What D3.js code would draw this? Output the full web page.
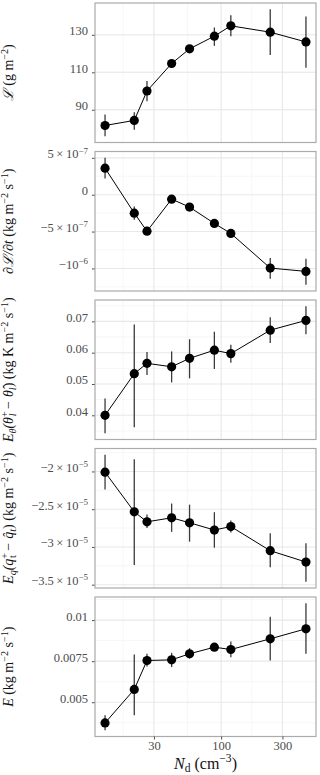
<!DOCTYPE html>
<html>
<head>
<meta charset="utf-8">
<script src="https://cdn.jsdelivr.net/npm/d3@7"></script>
<style>
  html, body { margin: 0; padding: 0; background: #fff; }
  svg { display: block; font-family: "Liberation Serif", "DejaVu Serif", serif; }
  svg text { font-family: "Liberation Serif", "DejaVu Serif", serif; }
</style>
</head>
<body>
<div id="chart"></div>
<script>
// droplet number concentration (cm^-3)
const nd = [12.5, 21.1, 26.5, 41.2, 56.8, 88.6, 119, 241, 457];

const lwp   = [81.6, 84.3, 100, 114.7, 122.5, 129.3, 134.8, 131.4, 126.2];
const lwpLo = [75.9, 79.3, 94.5, 113.2, 121.0, 124.1, 129.3, 119.2, 112.4];
const lwpHi = [87.5, 88.7, 105.3, 116.2, 124.0, 133.9, 140.4, 143.6, 139.8];

const dlwp   = [3.6e-7, -2.5e-7, -4.95e-7, -0.6e-7, -1.68e-7, -3.9e-7, -5.25e-7, -9.95e-7, -10.4e-7];
const dlwpLo = [2.2e-7, -3.4e-7, -5.2e-7, -0.8e-7, -1.9e-7, -4.1e-7, -5.45e-7, -11.4e-7, -12.2e-7];
const dlwpHi = [5.0e-7, -1.6e-7, -4.7e-7, -0.4e-7, -1.45e-7, -3.7e-7, -5.05e-7, -8.6e-7, -8.7e-7];

const eth   = [0.0400, 0.0533, 0.0566, 0.0555, 0.0582, 0.0608, 0.0597, 0.0672, 0.0703];
const ethLo = [0.0343, 0.0362, 0.0529, 0.0505, 0.0518, 0.0548, 0.0568, 0.0631, 0.0659];
const ethHi = [0.0454, 0.0690, 0.0602, 0.0604, 0.0643, 0.0667, 0.0625, 0.0713, 0.0748];

const eq   = [-2.01e-5, -2.535e-5, -2.667e-5, -2.614e-5, -2.68e-5, -2.776e-5, -2.73e-5, -3.05e-5, -3.20e-5];
const eqLo = [-2.24e-5, -3.24e-5, -2.75e-5, -2.80e-5, -2.93e-5, -3.01e-5, -2.81e-5, -3.27e-5, -3.46e-5];
const eqHi = [-1.78e-5, -1.84e-5, -2.57e-5, -2.425e-5, -2.44e-5, -2.54e-5, -2.65e-5, -2.82e-5, -2.95e-5];

const ent   = [0.00374, 0.00578, 0.00754, 0.00758, 0.00795, 0.00835, 0.00821, 0.00886, 0.00947];
const entLo = [0.0033, 0.0042, 0.00718, 0.00714, 0.00765, 0.00811, 0.00774, 0.00754, 0.00795];
const entHi = [0.0042, 0.0079, 0.00795, 0.00801, 0.00829, 0.00859, 0.0087, 0.01021, 0.01102];

const xTicks = [30, 100, 300];
const xMinor = [17.3, 54.8, 173.2];

const lwpTicks = [90, 110, 130];
const dlwpTicks = [5e-7, 0, -5e-7, -1e-6];
const dlwpLabels = [
  [{t: "5\u2009×\u200910"}, {t: "−7", sup: true}],
  [{t: "0"}],
  [{t: "−5\u2009×\u200910"}, {t: "−7", sup: true}],
  [{t: "−10"}, {t: "−6", sup: true}]
];
const ethTicks = [0.04, 0.05, 0.06, 0.07];
const eqTicks = [-2e-5, -2.5e-5, -3e-5, -3.5e-5];
const eqLabels = [
  [{t: "−2\u2009×\u200910"}, {t: "−5", sup: true}],
  [{t: "−2.5\u2009×\u200910"}, {t: "−5", sup: true}],
  [{t: "−3\u2009×\u200910"}, {t: "−5", sup: true}],
  [{t: "−3.5\u2009×\u200910"}, {t: "−5", sup: true}]
];
const entTicks = [0.005, 0.0075, 0.01];
const entLabels = ["0.005", "0.0075", "0.01"];

const panels = [
  {v: lwp, lo: lwpLo, hi: lwpHi, ticks: lwpTicks, labels: lwpTicks.map(d => [{t: String(d)}]),
   title: [{t: "ℒ", i: true}, {t: " (g m"}, {t: "−2", sup: true}, {t: ")"}]},
  {v: dlwp, lo: dlwpLo, hi: dlwpHi, ticks: dlwpTicks, labels: dlwpLabels,
   title: [{t: "∂ℒ/∂t", i: true}, {t: " (kg m"}, {t: "−2", sup: true}, {t: " s"}, {t: "−1", sup: true}, {t: ")"}]},
  {v: eth, lo: ethLo, hi: ethHi, ticks: ethTicks, labels: ethTicks.map(d => [{t: String(d)}]),
   title: [{t: "E", i: true}, {t: "θ", sub: true, i: true}, {t: "(θ", i: true}, {t: "+", sup: true},
           {t: "l", sub: true, i: true, dx: -5}, {t: " − θ̂", i: true}, {t: "l", sub: true, i: true},
           {t: ") (kg K m"}, {t: "−2", sup: true}, {t: " s"}, {t: "−1", sup: true}, {t: ")"}]},
  {v: eq, lo: eqLo, hi: eqHi, ticks: eqTicks, labels: eqLabels,
   title: [{t: "E", i: true}, {t: "q", sub: true, i: true}, {t: "(q", i: true}, {t: "+", sup: true},
           {t: "t", sub: true, dx: -5}, {t: " − q̂", i: true}, {t: "t", sub: true, i: true},
           {t: ") (kg m"}, {t: "−2", sup: true}, {t: " s"}, {t: "−1", sup: true}, {t: ")"}]},
  {v: ent, lo: entLo, hi: entHi, ticks: entTicks, labels: entLabels.map(d => [{t: d}]),
   title: [{t: "E", i: true}, {t: " (kg m"}, {t: "−2", sup: true}, {t: " s"}, {t: "−1", sup: true}, {t: ")"}]}
];

const width = 320, height = 775;
const left = 95, right = 316, marginTop = 3, panelH = 139.5, gap = 9;
const tickSize = 12.5, titleSize = 14;
const serif = "Liberation Serif, DejaVu Serif, serif";

// write segments as tspans, handling super/subscripts
function rich(text, segs, size) {
  let off = 0;
  segs.forEach((s) => {
    const target = s.sup ? -size * 0.38 : s.sub ? size * 0.22 : 0;
    const ts = text.append("tspan").text(s.t).attr("dy", target - off);
    if (s.sup || s.sub) ts.attr("font-size", size * 0.72);
    if (s.i) ts.attr("font-style", "italic");
    if (s.dx) ts.attr("dx", s.dx);
    off = target;
  });
}

// ggplot-like 5% expansion on a (log) range
function expand(lo, hi) {
  const pad = (hi - lo) * 0.05;
  return [lo - pad, hi + pad];
}

const svg = d3.select("#chart").append("svg")
  .attr("width", width)
  .attr("height", height);

const lx = expand(Math.log10(d3.min(nd)), Math.log10(d3.max(nd)));
const x = d3.scaleLog()
  .domain([Math.pow(10, lx[0]), Math.pow(10, lx[1])])
  .range([left, right]);

panels.forEach((p, k) => {
  const y0 = marginTop + k * (panelH + gap);
  const y = d3.scaleLinear()
    .domain(expand(d3.min(p.lo), d3.max(p.hi)))
    .range([y0 + panelH, y0]);

  const g = svg.append("g");

  // minor grid: halfway between major ticks
  const step = Math.abs(p.ticks[1] - p.ticks[0]);
  const [dmin, dmax] = y.domain();
  const yMinor = d3.range(Math.floor(dmin / step) * step + step / 2, dmax, step)
    .filter(d => d > dmin && d < dmax);

  g.selectAll(".ymin").data(yMinor).enter().append("line")
    .attr("x1", left).attr("x2", right)
    .attr("y1", d => y(d)).attr("y2", d => y(d))
    .attr("stroke", "#f2f2f2").attr("stroke-width", 0.7);
  g.selectAll(".xmin").data(xMinor).enter().append("line")
    .attr("x1", d => x(d)).attr("x2", d => x(d))
    .attr("y1", y0).attr("y2", y0 + panelH)
    .attr("stroke", "#f2f2f2").attr("stroke-width", 0.7);
  g.selectAll(".ymaj").data(p.ticks).enter().append("line")
    .attr("x1", left).attr("x2", right)
    .attr("y1", d => y(d)).attr("y2", d => y(d))
    .attr("stroke", "#e8e8e8").attr("stroke-width", 1.1);
  g.selectAll(".xmaj").data(xTicks).enter().append("line")
    .attr("x1", d => x(d)).attr("x2", d => x(d))
    .attr("y1", y0).attr("y2", y0 + panelH)
    .attr("stroke", "#e8e8e8").attr("stroke-width", 1.1);

  // y axis: ticks + labels
  const yAxis = g.append("g")
    .attr("transform", `translate(${left},0)`)
    .call(d3.axisLeft(y).tickValues(p.ticks).tickSize(3).tickPadding(3).tickFormat(""))
    .attr("font-family", serif)
    .attr("font-size", tickSize);
  yAxis.select(".domain").remove();
  yAxis.selectAll(".tick text").remove();
  yAxis.selectAll(".tick line").attr("stroke", "#4d4d4d");
  yAxis.selectAll(".tick").each(function(d, i) {
    const t = d3.select(this).append("text")
      .attr("x", -7).attr("dy", "0.34em")
      .attr("text-anchor", "end")
      .attr("font-family", serif)
      .attr("fill", "#4d4d4d");
    rich(t, p.labels[i], tickSize);
  });

  // error bars
  g.selectAll(".err").data(nd).enter().append("line")
    .attr("x1", d => x(d)).attr("x2", d => x(d))
    .attr("y1", (d, i) => y(p.lo[i])).attr("y2", (d, i) => y(p.hi[i]))
    .attr("stroke", "#3a3a3a").attr("stroke-width", 1.3);

  const line = d3.line()
    .x((d, i) => x(nd[i]))
    .y(d => y(d));
  g.append("path")
    .datum(p.v)
    .attr("d", line)
    .attr("fill", "none")
    .attr("stroke", "#000")
    .attr("stroke-width", 1);

  g.selectAll(".pt").data(p.v).enter().append("circle")
    .attr("cx", (d, i) => x(nd[i]))
    .attr("cy", d => y(d))
    .attr("r", 4.6)
    .attr("fill", "#000");

  // panel border
  g.append("rect")
    .attr("x", left).attr("y", y0)
    .attr("width", right - left).attr("height", panelH)
    .attr("fill", "none")
    .attr("stroke", "#ababab")
    .attr("stroke-width", 1.2);

  // y title
  const title = g.append("text")
    .attr("transform", `translate(13,${y0 + panelH / 2}) rotate(-90)`)
    .attr("text-anchor", "middle")
    .attr("dy", "0.35em")
    .attr("fill", "#111")
    .attr("font-size", titleSize);
  rich(title, p.title, titleSize);

  // x axis on the last panel
  if (k === panels.length - 1) {
    const xAxis = g.append("g")
      .attr("transform", `translate(0,${y0 + panelH})`)
      .call(d3.axisBottom(x).tickValues(xTicks).tickSize(3).tickPadding(2).tickFormat(d3.format("d")))
      .attr("font-family", serif)
      .attr("font-size", tickSize);
    xAxis.select(".domain").remove();
    xAxis.selectAll(".tick line").attr("stroke", "#4d4d4d");
    xAxis.selectAll(".tick text").attr("fill", "#4d4d4d").attr("font-family", serif);

    const xt = svg.append("text")
      .attr("x", (left + right) / 2)
      .attr("y", y0 + panelH + 32)
      .attr("text-anchor", "middle")
      .attr("fill", "#111")
      .attr("font-size", 16);
    rich(xt, [{t: "N", i: true}, {t: "d", sub: true}, {t: " (cm"}, {t: "−3", sup: true}, {t: ")"}], 16);
  }
});
</script>
</body>
</html>
